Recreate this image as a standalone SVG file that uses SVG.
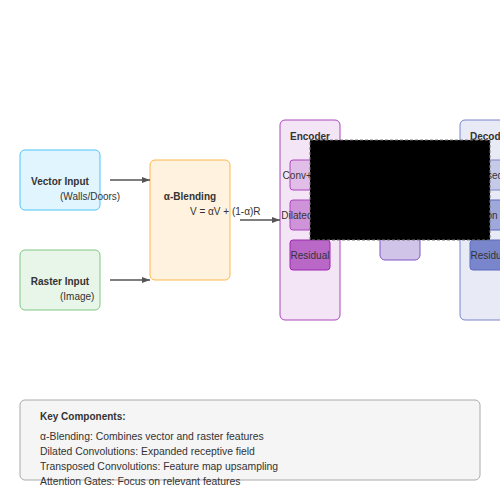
<svg xmlns="http://www.w3.org/2000/svg" width="500" height="500" viewBox="0 0 500 500">
<defs>
<marker id="arr" markerWidth="8" markerHeight="6" refX="8" refY="3" orient="auto" markerUnits="userSpaceOnUse">
<path d="M0,0 L8,3 L0,6 Z" fill="#555"/>
</marker>
<style>
text{font-family:"Liberation Sans",Arial,sans-serif;font-size:10px;fill:#333}
.b{font-weight:bold}
.m{text-anchor:middle}
.l{font-size:10.4px}
.c{stroke:#555;stroke-width:1.5;fill:none}
</style>
</defs>
<rect width="500" height="500" fill="#fff"/>
<g id="vector-input">
<rect x="20" y="150" width="80" height="60" rx="5" fill="#e1f5fe" stroke="#4fc3f7"/>
<text x="60" y="185" class="b m">Vector Input</text>
<text x="60" y="200">(Walls/Doors)</text>
</g>
<g id="raster-input">
<rect x="20" y="250" width="80" height="60" rx="5" fill="#e8f5e9" stroke="#81c784"/>
<text x="60" y="285" class="b m">Raster Input</text>
<text x="60" y="300">(Image)</text>
</g>
<g id="alpha-blending">
<rect x="150" y="160" width="80" height="120" rx="5" fill="#fff3e0" stroke="#ffb74d"/>
<text x="190" y="200" class="b m">α-Blending</text>
<text x="190" y="215">V = αV + (1-α)R</text>
</g>
<g id="encoder">
<rect x="280" y="120" width="60" height="200" rx="5" fill="#f3e5f5" stroke="#ab47bc"/>
<text x="310" y="140" class="b m">Encoder</text>
<rect x="290" y="160" width="40" height="30" rx="3" fill="#e1bee7" stroke="#ab47bc"/>
<text x="310" y="179" class="m">Conv+ReLU</text>
<rect x="290" y="200" width="40" height="30" rx="3" fill="#ce93d8" stroke="#ab47bc"/>
<text x="310" y="219" class="m">Dilated Conv</text>
<rect x="290" y="240" width="40" height="30" rx="3" fill="#ba68c8" stroke="#9c27b0"/>
<text x="310" y="259" class="m">Residual</text>
</g>
<g id="bottleneck">
<rect x="380" y="160" width="40" height="100" rx="5" fill="#d1c4e9" stroke="#7e57c2"/>
</g>
<g id="decoder">
<rect x="460" y="120" width="60" height="200" rx="5" fill="#e8eaf6" stroke="#7986cb"/>
<text x="490" y="140" class="b m">Decoder</text>
<rect x="470" y="160" width="40" height="30" rx="3" fill="#c5cae9" stroke="#7986cb"/>
<text x="490" y="179" class="m">Transposed Conv</text>
<rect x="470" y="200" width="40" height="30" rx="3" fill="#9fa8da" stroke="#5c6bc0"/>
<text x="490" y="219" class="m">Attention Gate</text>
<rect x="470" y="240" width="40" height="30" rx="3" fill="#7986cb" stroke="#5c6bc0"/>
<text x="490" y="259" class="m">Residual</text>
</g>
<g id="connectors">
<line x1="110" y1="180" x2="150" y2="180" class="c" marker-end="url(#arr)"/>
<line x1="110" y1="280" x2="150" y2="280" class="c" marker-end="url(#arr)"/>
<line x1="240" y1="220" x2="280" y2="220" class="c" marker-end="url(#arr)"/>
</g>
<g id="overlay">
<rect x="310" y="140" width="180" height="100" fill="#000" stroke="#777" stroke-dasharray="3,2"/>
</g>
<g id="legend">
<rect x="20" y="400" width="460" height="80" rx="5" fill="#f5f5f5" stroke="#aaa"/>
<text x="40" y="420" class="b">Key Components:</text>
<text x="40" y="440" class="l">α-Blending: Combines vector and raster features</text>
<text x="40" y="455" class="l">Dilated Convolutions: Expanded receptive field</text>
<text x="40" y="470" class="l">Transposed Convolutions: Feature map upsampling</text>
<text x="40" y="485" class="l">Attention Gates: Focus on relevant features</text>
</g>
</svg>
